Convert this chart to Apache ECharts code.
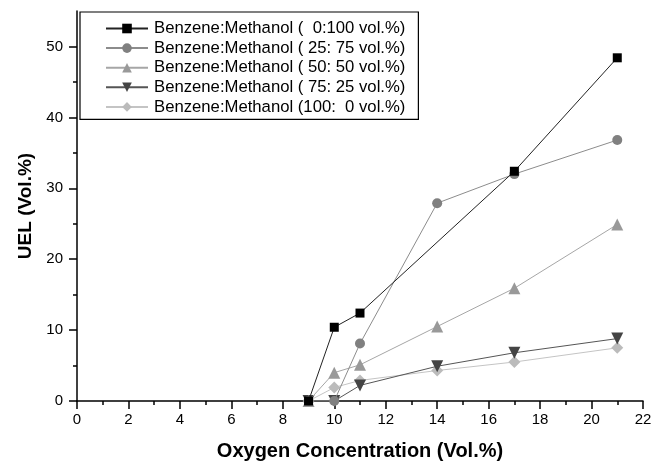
<!DOCTYPE html>
<html>
<head>
<meta charset="utf-8">
<script src="https://cdn.jsdelivr.net/npm/echarts@6/dist/echarts.min.js"></script>
<style>html,body{margin:0;padding:0;background:#fff}#c{width:662px;height:466px}</style>
</head>
<body>
<div id="c"></div>
<script>
var seriesNames = [
  'Benzene:Methanol (  0:100 vol.%)',
  'Benzene:Methanol ( 25: 75 vol.%)',
  'Benzene:Methanol ( 50: 50 vol.%)',
  'Benzene:Methanol ( 75: 25 vol.%)',
  'Benzene:Methanol (100:  0 vol.%)'
];
var x0 = [9, 10, 11, 17, 21];
var y0 = [0, 10.4, 12.4, 32.4, 48.4];
var x25 = [9, 10, 11, 14, 17, 21];
var y25 = [0, 0, 8.1, 27.9, 32, 36.8];
var x50 = [9, 10, 11, 14, 17, 21];
var y50 = [0, 4, 5.1, 10.5, 15.9, 24.9];
var x75 = [9, 10, 11, 14, 17, 21];
var y75 = [0, 0, 2.2, 4.9, 6.8, 8.8];
var x100 = [9, 10, 11, 14, 17, 21];
var y100 = [0, 1.9, 2.9, 4.3, 5.5, 7.5];
var yMajor = [0, 10, 20, 30, 40, 50];
var yMinor = [5, 15, 25, 35, 45];

function pairs(xs, ys) { return xs.map(function (x, i) { return [x, ys[i]]; }); }

var styles = [
  { symbol: 'rect', size: 9, color: '#000000', line: '#222222', rotate: 0 },
  { symbol: 'circle', size: 10, color: '#808080', line: '#8c8c8c', rotate: 0 },
  { symbol: 'triangle', size: 12, color: '#999999', line: '#a6a6a6', rotate: 0 },
  { symbol: 'triangle', size: 12, color: '#444444', line: '#555555', rotate: 180 },
  { symbol: 'diamond', size: 12, color: '#bbbbbb', line: '#c4c4c4', rotate: 0 }
];
var datasets = [pairs(x0, y0), pairs(x25, y25), pairs(x50, y50), pairs(x75, y75), pairs(x100, y100)];

var font = 'Liberation Sans, Arial, sans-serif';
var chart = echarts.init(document.getElementById('c'), null, { renderer: 'canvas' });
chart.setOption({
  animation: false,
  backgroundColor: '#ffffff',
  grid: { left: 77, right: 19, top: 11, bottom: 62.5, containLabel: false },
  legend: {
    orient: 'vertical',
    left: 80, top: 12,
    padding: [8, 13, 4, 25],
    itemGap: 2.6,
    itemWidth: 42,
    itemHeight: 12,
    borderColor: '#000', borderWidth: 1.2,
    backgroundColor: '#fff',
    textStyle: { fontFamily: font, fontSize: 16.7, lineHeight: 17, color: '#000', padding: [0, 0, 0, 1] },
    data: seriesNames
  },
  xAxis: {
    type: 'value', min: 0, max: 22, interval: 2,
    name: 'Oxygen Concentration (Vol.%)', nameLocation: 'middle', nameGap: 40,
    nameTextStyle: { fontFamily: font, fontSize: 20, fontWeight: 'bold', color: '#000' },
    axisLine: { show: true, lineStyle: { color: '#000', width: 1.5 } },
    axisTick: { show: true, length: 8, lineStyle: { color: '#000', width: 1.5 } },
    minorTick: { show: true, splitNumber: 2, length: 4, lineStyle: { color: '#000', width: 1.5 } },
    axisLabel: { fontFamily: font, fontSize: 15, color: '#000', margin: 11 },
    splitLine: { show: false }, minorSplitLine: { show: false }
  },
  yAxis: [{
    type: 'value', min: 0, max: 55,
    name: 'UEL (Vol.%)', nameLocation: 'middle', nameGap: 42,
    nameTextStyle: { fontFamily: font, fontSize: 19, fontWeight: 'bold', color: '#000' },
    axisLine: { show: true, lineStyle: { color: '#000', width: 1.5 } },
    axisTick: { show: true, length: 8, customValues: yMajor, lineStyle: { color: '#000', width: 1.5 } },
    axisLabel: { fontFamily: font, fontSize: 15, color: '#000', margin: 14, customValues: yMajor },
    splitLine: { show: false }
  }, {
    type: 'value', min: 0, max: 55, position: 'left',
    axisLine: { show: false },
    axisTick: { show: true, length: 4, customValues: yMinor, lineStyle: { color: '#000', width: 1.5 } },
    axisLabel: { show: false },
    splitLine: { show: false }
  }],
  series: datasets.map(function (d, i) {
    var s = styles[i];
    return {
      name: seriesNames[i], type: 'line', data: d, yAxisIndex: 0,
      symbol: s.symbol, symbolSize: s.size, symbolRotate: s.rotate,
      showAllSymbol: true,
      itemStyle: { color: s.color, borderWidth: 0 },
      lineStyle: { color: s.line, width: 1 },
      z: 10 - i
    };
  })
});
</script>
</body>
</html>
